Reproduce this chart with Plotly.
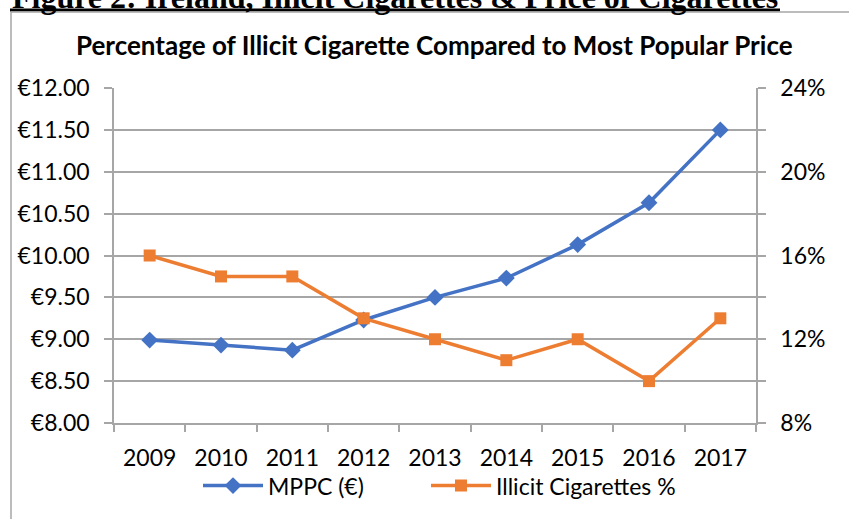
import plotly.graph_objects as go

years = ["2009", "2010", "2011", "2012", "2013", "2014", "2015", "2016", "2017"]
mppc = [8.99, 8.93, 8.87, 9.23, 9.50, 9.73, 10.13, 10.63, 11.50]
illicit = [16, 15, 15, 13, 12, 11, 12, 10, 13]

left_ticks = [8 + 0.5 * i for i in range(9)]
left_text = [f"€{v:.2f}" for v in left_ticks]
right_ticks = [8 + 2 * i for i in range(9)]
right_text = [f"{v}%" if v % 4 == 0 else "" for v in right_ticks]

W, H = 849, 519
L, R, T, B = 114, 756, 88, 425
pw, ph = R - L, B - T


def px(x):
    return (x - L) / pw


def py(y):
    return (B - y) / ph


FONT = "Lato"
GRID = "#a6a6a6"

fig = go.Figure()
fig.add_trace(go.Scatter(
    x=years, y=mppc, name="MPPC (€)", mode="lines+markers",
    line=dict(color="#4472C4", width=3.5),
    marker=dict(symbol="diamond", size=13, color="#4472C4"),
    yaxis="y", legend="legend"))
fig.add_trace(go.Scatter(
    x=years, y=illicit, name="Illicit Cigarettes %", mode="lines+markers",
    line=dict(color="#ED7D31", width=3.5),
    marker=dict(symbol="square", size=12, color="#ED7D31"),
    yaxis="y2", legend="legend2"))

leg = dict(orientation="h", y=py(488), yanchor="middle", xanchor="left",
           font=dict(size=23), itemwidth=60, bgcolor="rgba(0,0,0,0)")

fig.update_layout(
    width=W, height=H,
    margin=dict(l=L, r=W - R, t=T, b=H - B),
    paper_bgcolor="white", plot_bgcolor="white",
    font=dict(family=FONT, size=23, color="black"),
    showlegend=True,
    legend=dict(leg, x=px(198)),
    legend2=dict(leg, x=px(426)),
    xaxis=dict(type="category", range=[-0.5, 8.5], tickson="boundaries",
               ticks="outside", ticklen=7, tickcolor=GRID, tickwidth=1.5,
               showgrid=False, showline=True, linecolor=GRID, linewidth=1.5,
               ticklabelstandoff=14, zeroline=False),
    yaxis=dict(range=[8, 12], tickvals=left_ticks, ticktext=left_text,
               showgrid=True, gridcolor=GRID, gridwidth=1.5,
               showline=True, linecolor=GRID, linewidth=1.5,
               ticks="outside", ticklen=8, tickcolor=GRID, tickwidth=1.5,
               zeroline=False, ticklabelstandoff=10),
    yaxis2=dict(range=[8, 24], overlaying="y", side="right", tickvals=right_ticks,
                ticktext=right_text, showgrid=False,
                showline=True, linecolor=GRID, linewidth=1.5,
                ticks="outside", ticklen=8, tickcolor=GRID, tickwidth=1.5,
                zeroline=False, ticklabelstandoff=10),
)

# chart title
fig.add_annotation(text="<b>Percentage of Illicit Cigarette Compared to Most Popular Price</b>",
                   xref="paper", yref="paper", x=px(434), y=py(45), xanchor="center", yanchor="middle",
                   showarrow=False, font=dict(family=FONT, size=26, color="black"))

# document heading (cut off at top)
fig.add_annotation(text="<b>Figure 2: Ireland, Illicit Cigarettes &amp; Price of Cigarettes</b>",
                   xref="paper", yref="paper", x=px(10), y=py(-4), xanchor="left", yanchor="middle",
                   showarrow=False, font=dict(family="Liberation Serif", size=32, color="black"))

# underline of heading
fig.add_shape(type="line", xref="paper", yref="paper", x0=px(10), x1=px(780), y0=py(9.5), y1=py(9.5),
              line=dict(color="black", width=3))
# chart border
fig.add_shape(type="line", xref="paper", yref="paper", x0=px(11), x1=px(11), y0=py(11.5), y1=py(530),
              line=dict(color="#a6a6a6", width=1.5))
fig.add_shape(type="line", xref="paper", yref="paper", x0=px(11), x1=px(860), y0=py(11.5), y1=py(11.5),
              line=dict(color="#a6a6a6", width=1.5))

fig.write_html("out.html")
